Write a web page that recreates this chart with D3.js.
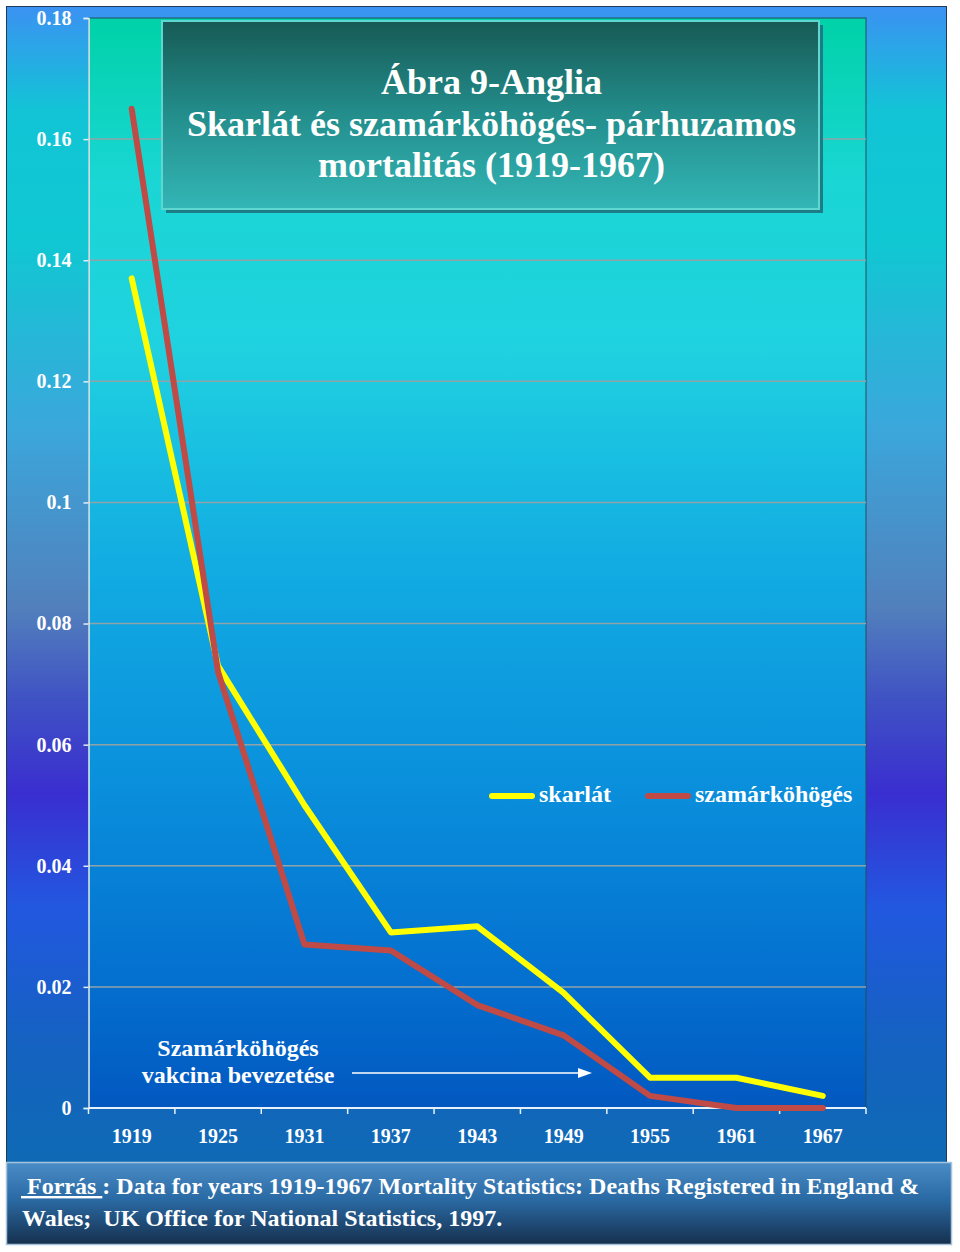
<!DOCTYPE html>
<html><head><meta charset="utf-8">
<script src="https://cdn.jsdelivr.net/npm/d3@7"></script>
<style>html,body{margin:0;padding:0;background:#fff;}svg{display:block;}</style>
</head><body>
<script>
const years = ["1919","1925","1931","1937","1943","1949","1955","1961","1967"];
const skarlat = [0.137, 0.073, 0.050, 0.029, 0.030, 0.019, 0.005, 0.005, 0.002];
const szamar = [0.165, 0.072, 0.027, 0.026, 0.017, 0.012, 0.002, 0.000, 0.000];
const yTicks = [0, 0.02, 0.04, 0.06, 0.08, 0.1, 0.12, 0.14, 0.16, 0.18];
const seriesNames = ["skarlát", "szamárköhögés"];
const titleLines = ["Ábra 9-Anglia", "Skarlát és szamárköhögés- párhuzamos", "mortalitás (1919-1967)"];
const noteLines = ["Szamárköhögés", "vakcina bevezetése"];

(function () {
const W = 960, H = 1252;
const FONT = "'Liberation Serif','Times New Roman',serif";
const svg = d3.select("body").append("svg").attr("width", W).attr("height", H);
const defs = svg.append("defs");

function grad(id, stops) {
  const g = defs.append("linearGradient").attr("id", id)
    .attr("x1", 0).attr("y1", 0).attr("x2", 0).attr("y2", 1);
  stops.forEach(s => g.append("stop").attr("offset", s[0]).attr("stop-color", s[1]));
}
grad("outerBg", [[0, "#3b92f2"], [0.09, "#12c4d6"], [0.2, "#0fc8d2"], [0.36, "#3aa8dc"], [0.52, "#5280bc"], [0.6, "#3f52c4"], [0.68, "#3a2ed0"], [0.78, "#2258e0"], [0.9, "#1462c0"], [1, "#0f6ab4"]]);
grad("plotBg", [[0, "#00d2a8"], [0.15, "#1ad6d4"], [0.3, "#20d2e0"], [0.5, "#12ace2"], [0.7, "#0a90dc"], [0.88, "#0470d0"], [1, "#0258c0"]]);
grad("titleBg", [[0, "#175a55"], [0.5, "#238e8c"], [1, "#33b6b6"]]);
grad("footBg", [[0, "#4a8cc6"], [0.45, "#2a6aa4"], [1, "#16304e"]]);

svg.append("rect").attr("x", 6.5).attr("y", 6.5).attr("width", 940).attr("height", 1156)
  .attr("fill", "url(#outerBg)").attr("stroke", "#1d3a58").attr("stroke-width", 1);

const pL = 88.5, pR = 866, pT = 18, pB = 1108;
const x = d3.scaleBand().domain(years).range([pL, pR]).padding(0);
const y = d3.scaleLinear().domain([0, 0.18]).range([pB, pT]);

svg.append("rect").attr("x", pL).attr("y", pT).attr("width", pR - pL).attr("height", pB - pT)
  .attr("fill", "url(#plotBg)").attr("stroke", "#1e4f63").attr("stroke-width", 1);

svg.append("g").selectAll("line").data(yTicks.filter(d => d > 0 && d < 0.18)).join("line")
  .attr("x1", pL).attr("x2", pR).attr("y1", d => y(d)).attr("y2", d => y(d))
  .attr("stroke", "#8fa3a8").attr("stroke-width", 1.5);

const yAxis = svg.append("g").attr("transform", `translate(${pL},0)`)
  .call(d3.axisLeft(y).tickValues(yTicks).tickFormat(d => String(d)).tickSize(5).tickPadding(12));
yAxis.select(".domain").attr("stroke", "#dfeff5").attr("stroke-width", 1.5);
yAxis.selectAll(".tick line").attr("stroke", "#dfeff5").attr("stroke-width", 1.5);
yAxis.selectAll("text").attr("fill", "#fff").attr("font-family", FONT).attr("font-weight", "bold").attr("font-size", 20);

const xAxis = svg.append("g").attr("transform", `translate(0,${pB})`)
  .call(d3.axisBottom(x).tickSize(0).tickPadding(21));
xAxis.select(".domain").attr("stroke", "#e6f2fa").attr("stroke-width", 2).attr("d", `M${pL},0H${pR}`);
xAxis.selectAll("text").attr("fill", "#fff").attr("font-family", FONT).attr("font-weight", "bold").attr("font-size", 20);
const bounds = years.map(d => x(d)).concat([pR]);
xAxis.append("g").selectAll("line").data(bounds).join("line")
  .attr("x1", d => d).attr("x2", d => d).attr("y1", 0).attr("y2", 6)
  .attr("stroke", "#e6f2fa").attr("stroke-width", 1.5);

const tb = {x: 162, y: 21, w: 657, h: 188};
svg.append("rect").attr("x", tb.x + 4).attr("y", tb.y + 4).attr("width", tb.w).attr("height", tb.h).attr("fill", "#1d7d86");
svg.append("rect").attr("x", tb.x).attr("y", tb.y).attr("width", tb.w).attr("height", tb.h)
  .attr("fill", "url(#titleBg)").attr("stroke", "#5fd6cf").attr("stroke-width", 2);
svg.append("g").selectAll("text").data(titleLines).join("text")
  .attr("x", tb.x + tb.w / 2 + 1).attr("y", (d, i) => 94 + i * 41.5)
  .attr("text-anchor", "middle").attr("fill", "#fff").attr("font-family", FONT)
  .attr("font-weight", "bold").attr("font-size", 36).text(d => d);

const line = d3.line().x((d, i) => x(years[i]) + x.bandwidth() / 2).y(d => y(d));
svg.append("path").datum(skarlat).attr("d", line).attr("fill", "none")
  .attr("stroke", "#ffff00").attr("stroke-width", 6).attr("stroke-linejoin", "round").attr("stroke-linecap", "round");
svg.append("path").datum(szamar).attr("d", line).attr("fill", "none")
  .attr("stroke", "#c04a46").attr("stroke-width", 6).attr("stroke-linejoin", "round").attr("stroke-linecap", "round");

const colors = ["#ffff00", "#c04a46"];
const lg = svg.append("g");
const lx = [492, 648];
seriesNames.forEach((n, i) => {
  lg.append("line").attr("x1", lx[i]).attr("x2", lx[i] + 40).attr("y1", 796).attr("y2", 796)
    .attr("stroke", colors[i]).attr("stroke-width", 6).attr("stroke-linecap", "round");
  lg.append("text").attr("x", lx[i] + 47).attr("y", 802).attr("fill", "#fff").attr("font-family", FONT)
    .attr("font-weight", "bold").attr("font-size", 24).text(n);
});

svg.append("g").selectAll("text").data(noteLines).join("text")
  .attr("x", 238).attr("y", (d, i) => 1056 + i * 27).attr("text-anchor", "middle")
  .attr("fill", "#fff").attr("font-family", FONT).attr("font-weight", "bold").attr("font-size", 24).text(d => d);
svg.append("line").attr("x1", 352).attr("x2", 580).attr("y1", 1073).attr("y2", 1073)
  .attr("stroke", "#fff").attr("stroke-width", 1.5);
svg.append("path").attr("d", "M578,1068L592,1073L578,1078Z").attr("fill", "#fff");

svg.append("rect").attr("x", 6.5).attr("y", 1162.5).attr("width", 945).attr("height", 82)
  .attr("fill", "url(#footBg)").attr("stroke", "#a8c4dc").attr("stroke-width", 1.5);
const ft = svg.append("text").attr("x", 21).attr("y", 1194).attr("fill", "#fff")
  .attr("font-family", FONT).attr("font-weight", "bold").attr("font-size", 24)
  .style("white-space", "pre");
ft.append("tspan").attr("text-decoration", "underline").text("\u00a0Forrás\u00a0");
ft.append("tspan").text(": Data for years 1919-1967 Mortality Statistics: Deaths Registered in England &");
svg.append("text").attr("x", 22).attr("y", 1226).attr("fill", "#fff")
  .attr("font-family", FONT).attr("font-weight", "bold").attr("font-size", 24)
  .style("white-space", "pre")
  .text("Wales;  UK Office for National Statistics, 1997.");
})();
</script>
</body></html>
